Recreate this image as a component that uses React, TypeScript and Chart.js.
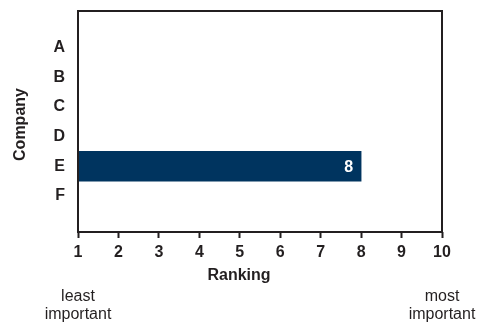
import React, { useEffect, useRef } from "react";
import { Chart, registerables } from "chart.js";

Chart.register(...registerables);

// Companies on the vertical axis, their rankings on the horizontal axis
const companies = ["A", "B", "C", "D", "E", "F"];
const rankings: (number | null)[] = [null, null, null, null, 8, null];
const rankMin = 1;
const rankMax = 10;
const xTitle = "Ranking";
const yTitle = "Company";
const leftNote = ["least", "important"];
const rightNote = ["most", "important"];

const FONT = "'Liberation Sans', Arial, Helvetica, sans-serif";
const INK = "#231f20";
const BAR = "#00345f";

// Vertical extent of the company axis (leaves room above A and below F)
const companyAxisMin = -0.24;
const companyAxisMax = 7.22;

// Frame, bar value labels, axis titles and the notes under the axis ends
const decorations = {
  id: "decorations",
  afterDatasetsDraw(chart: any) {
    const { ctx, chartArea } = chart;
    ctx.save();
    ctx.strokeStyle = INK;
    ctx.lineWidth = 2;
    ctx.strokeRect(chartArea.left, chartArea.top, chartArea.right - chartArea.left, chartArea.bottom - chartArea.top);

    const meta = chart.getDatasetMeta(0);
    ctx.fillStyle = "#ffffff";
    ctx.font = `bold 16px ${FONT}`;
    ctx.textAlign = "right";
    ctx.textBaseline = "middle";
    meta.data.forEach((el: any, i: number) => {
      const v = rankings[i];
      if (v == null) return;
      ctx.fillText(String(v), el.x - 8, el.y + 1);
    });

    ctx.fillStyle = INK;
    ctx.textAlign = "center";
    ctx.font = `bold 16px ${FONT}`;
    // x-axis title sits centred on the whole figure
    ctx.fillText(xTitle, chart.width / 2 - 2, 276);
    // y-axis title, rotated, a little below the plot's middle
    ctx.save();
    ctx.translate(21, (chartArea.top + chartArea.bottom) / 2 + 3);
    ctx.rotate(-Math.PI / 2);
    ctx.fillText(yTitle, 0, 0);
    ctx.restore();

    const xs = chart.scales.x;
    ctx.font = `16px ${FONT}`;
    const lx = xs.getPixelForValue(rankMin);
    const rx = xs.getPixelForValue(rankMax);
    [leftNote, rightNote].forEach((lines, k) => {
      const x = k === 0 ? lx : rx;
      lines.forEach((t, j) => ctx.fillText(t, x, 297 + j * 18));
    });
    ctx.restore();
  },
};

export default function App() {
  const ref = useRef<HTMLCanvasElement>(null);

  useEffect(() => {
    if (!ref.current) return;
    const chart = new Chart(ref.current, {
      type: "bar",
      data: {
        datasets: [
          {
            data: companies.map((c, i) => ({ x: rankings[i], y: i + 1 })) as any,
            backgroundColor: BAR,
            barThickness: 30,
          },
        ],
      },
      options: {
        indexAxis: "y",
        animation: false,
        responsive: false,
        maintainAspectRatio: false,
        layout: { padding: { top: 11, right: 40, bottom: 37, left: 0 } },
        plugins: { legend: { display: false }, tooltip: { enabled: false } },
        scales: {
          x: {
            type: "linear",
            min: rankMin,
            max: rankMax,
            ticks: {
              stepSize: 1,
              color: INK,
              font: { family: FONT, size: 16, weight: "bold" },
              padding: 5,
            },
            grid: {
              drawOnChartArea: false,
              drawTicks: true,
              tickLength: 6,
              tickWidth: 2,
              tickColor: INK,
            },
            border: { display: false },
            title: { display: false },
            afterFit: (s: any) => {
              s.height = 55;
              s.paddingLeft = 0;
              s.paddingRight = 0;
            },
          },
          y: {
            type: "linear",
            reverse: true,
            offset: false,
            min: companyAxisMin,
            max: companyAxisMax,
            afterBuildTicks: (s: any) => {
              s.ticks = companies.map((_, i) => ({ value: i + 1 }));
              s.min = companyAxisMin;
              s.max = companyAxisMax;
            },
            ticks: {
              autoSkip: false,
              color: INK,
              font: { family: FONT, size: 16, weight: "bold" },
              padding: 13,
              callback: (v: any) => companies[Number(v) - 1] ?? "",
            },
            grid: { display: false, drawTicks: false, offset: false },
            border: { display: false },
            title: { display: false },
            afterFit: (s: any) => {
              s.width = 78;
              s.paddingTop = 0;
              s.paddingBottom = 0;
            },
          },
        },
      },
      plugins: [decorations],
    });
    return () => chart.destroy();
  }, []);

  return (
    <div style={{ position: "absolute", left: 0, top: 0, width: 482, height: 324, background: "#fff" }}>
      <canvas ref={ref} width={482} height={324} />
    </div>
  );
}
